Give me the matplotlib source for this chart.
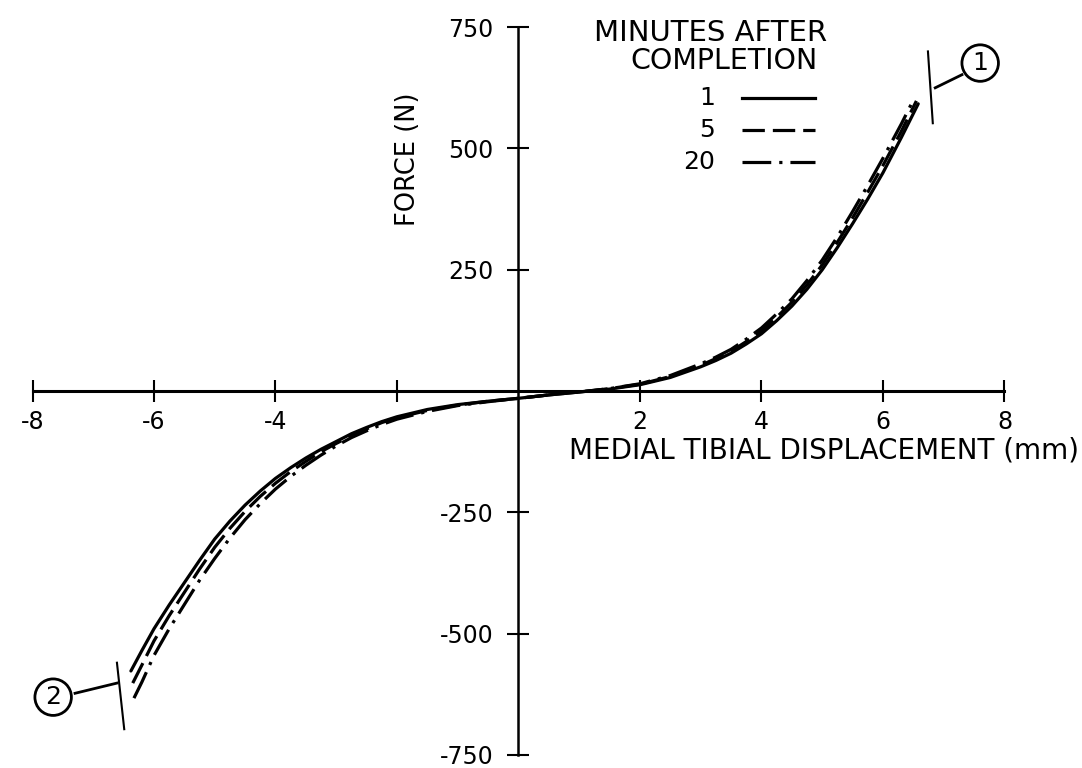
import numpy as np
import matplotlib.pyplot as plt

plt.rcParams['font.family'] = 'DejaVu Sans'
plt.rcParams['axes.unicode_minus'] = False

# Curve 1: 1 minute after completion (solid)
x_1 = [-6.38, -6.2, -6.0, -5.75, -5.5, -5.25, -5.0, -4.75, -4.5, -4.25, -4.0, -3.75, -3.5,
       -3.25, -3.0, -2.75, -2.5, -2.25, -2.0, -1.5, -1.0, -0.5, 0.0, 0.5, 1.0, 1.5, 2.0,
       2.5, 3.0, 3.25, 3.5, 3.75, 4.0, 4.25, 4.5, 4.75, 5.0, 5.25, 5.5, 5.75, 6.0, 6.3, 6.58]
f_1 = [-577, -535, -490, -441, -395, -349, -305, -268, -235, -206, -180, -158, -138,
       -120, -104, -88, -75, -63, -53, -38, -28, -21, -15, -8, -2, 4, 13,
       28, 50, 63, 78, 97, 118, 145, 175, 210, 250, 296, 345, 396, 450, 522, 592]

# Curve 2: 5 minutes (dashed)
x_5 = [-6.35, -6.2, -6.0, -5.75, -5.5, -5.25, -5.0, -4.75, -4.5, -4.25, -4.0, -3.75, -3.5,
       -3.25, -3.0, -2.75, -2.5, -2.25, -2.0, -1.5, -1.0, -0.5, 0.0, 0.5, 1.0, 1.5, 2.0,
       2.5, 3.0, 3.25, 3.5, 3.75, 4.0, 4.25, 4.5, 4.75, 5.0, 5.25, 5.5, 5.75, 6.0, 6.3, 6.55]
f_5 = [-602, -565, -515, -463, -415, -367, -322, -283, -248, -217, -190, -166, -145,
       -125, -108, -92, -78, -65, -55, -40, -29, -21, -15, -8, -2, 5, 14,
       30, 53, 67, 82, 102, 124, 152, 183, 219, 260, 307, 357, 410, 465, 535, 598]

# Curve 3: 20 minutes (dash-dot)
x_20 = [-6.33, -6.2, -6.0, -5.75, -5.5, -5.25, -5.0, -4.75, -4.5, -4.25, -4.0, -3.75, -3.5,
        -3.25, -3.0, -2.75, -2.5, -2.25, -2.0, -1.5, -1.0, -0.5, 0.0, 0.5, 1.0, 1.5, 2.0,
        2.5, 3.0, 3.25, 3.5, 3.75, 4.0, 4.25, 4.5, 4.75, 5.0, 5.25, 5.5, 5.75, 6.0, 6.3, 6.5]
f_20 = [-633, -600, -545, -490, -440, -390, -345, -303, -265, -232, -202, -176, -153,
        -132, -113, -96, -82, -69, -58, -42, -30, -22, -15, -8, -2, 5, 15,
        32, 56, 70, 86, 107, 130, 159, 190, 228, 270, 318, 370, 424, 480, 550, 600]

legend_labels = ['1', '5', '20']
x_ticks = [-8, -6, -4, -2, 2, 4, 6, 8]
x_tick_labels = ['-8', '-6', '-4', '', '2', '4', '6', '8']
y_ticks = [-750, -500, -250, 250, 500, 750]
y_tick_labels = ['-750', '-500', '-250', '250', '500', '750']

W, H = 1082, 768
fig = plt.figure(figsize=(W / 100, H / 100), dpi=100)
ax = fig.add_axes([0, 0, 1, 1])
ax.set_xlim(-8.535, 9.276)
ax.set_ylim(-777, 806)

# axes crossing at the origin
for s in ['top', 'right']:
    ax.spines[s].set_visible(False)
ax.spines['left'].set_position(('data', 0))
ax.spines['bottom'].set_position(('data', 0))
ax.spines['left'].set_bounds(-750, 750)
ax.spines['bottom'].set_bounds(-8, 8)
ax.spines['left'].set_linewidth(1.8)
ax.spines['bottom'].set_linewidth(2.2)

ax.set_xticks(x_ticks)
ax.set_xticklabels(x_tick_labels)
ax.set_yticks(y_ticks)
ax.set_yticklabels(y_tick_labels)
ax.tick_params(direction='inout', length=16, width=1.5, labelsize=17)
ax.tick_params(axis='x', pad=6)
ax.tick_params(axis='y', pad=10)

styles = ['-', (0, (7, 2.5)), (0, (9, 2.5, 1, 2.5))]
curves = [(x_1, f_1), (x_5, f_5), (x_20, f_20)]
for (xs, fs), ls in zip(curves, styles):
    ax.plot(xs, fs, color='black', lw=2.3, linestyle=ls, solid_capstyle='round')

# axis titles
ax.text(1079 / W, 1 - 451 / H, 'MEDIAL TIBIAL DISPLACEMENT (mm)', transform=ax.transAxes,
        ha='right', va='center', fontsize=20)
ax.text(408 / W, 1 - 159 / H, 'FORCE (N)', transform=ax.transAxes, rotation=90,
        ha='center', va='center', fontsize=18.5)

# legend drawn by hand
ax.text(711 / W, 1 - 33 / H, 'MINUTES AFTER', transform=ax.transAxes,
        ha='center', va='center', fontsize=21)
ax.text(724 / W, 1 - 61 / H, 'COMPLETION', transform=ax.transAxes,
        ha='center', va='center', fontsize=20.5)
leg_y = [98, 130, 162]
for lab, ls, py in zip(legend_labels, styles, leg_y):
    ax.text(715 / W, 1 - py / H, lab, transform=ax.transAxes,
            ha='right', va='center', fontsize=18)
    ax.plot([742 / W, 815 / W], [1 - py / H, 1 - py / H], transform=ax.transAxes,
            color='black', lw=2.3, linestyle=ls)

# end markers 1 and 2
ax.plot([6.74, 6.82], [700, 552], color='black', lw=1.5)
ax.plot([6.86, 7.3], [625, 652], color='black', lw=2)
ax.text(7.6, 676, '1', ha='center', va='center', fontsize=18,
        bbox=dict(boxstyle='circle,pad=0.25', fc='white', ec='black', lw=2))
ax.plot([-6.61, -6.49], [-560, -697], color='black', lw=1.5)
ax.plot([-6.61, -7.3], [-602, -623], color='black', lw=2)
ax.text(-7.66, -631, '2', ha='center', va='center', fontsize=18,
        bbox=dict(boxstyle='circle,pad=0.25', fc='white', ec='black', lw=2))

fig.savefig('out.png', dpi=100)
